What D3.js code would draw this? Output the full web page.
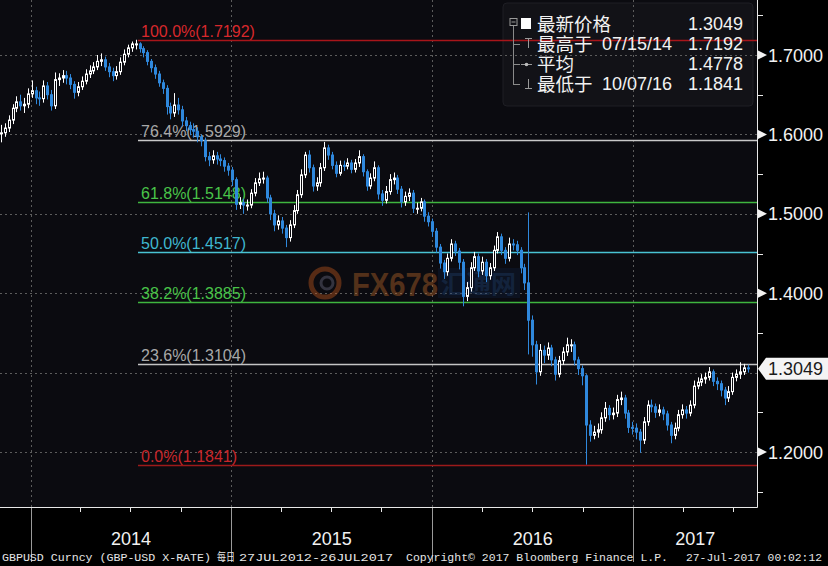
<!DOCTYPE html>
<html><head><meta charset="utf-8">
<script src="https://cdn.jsdelivr.net/npm/d3@7"></script>
<style>html,body{margin:0;padding:0;background:#000;} svg{display:block}</style>
</head><body>
<svg id="c" width="828" height="566"></svg>
<script>
// ---------------- DATA ----------------
const firstWeek = "2013-11-08";
const closes = [
  1.602, 1.608, 1.618, 1.633, 1.641, 1.636, 1.638, 1.651, 1.655, 1.646,
  1.645, 1.661, 1.650, 1.636, 1.669, 1.671, 1.674, 1.671, 1.663, 1.653,
  1.660, 1.667, 1.676, 1.680, 1.685, 1.692, 1.694, 1.685, 1.679, 1.674,
  1.679, 1.691, 1.701, 1.709, 1.714, 1.714, 1.708, 1.703, 1.692, 1.684,
  1.676, 1.665, 1.658, 1.635, 1.627, 1.637, 1.631, 1.617, 1.611, 1.606,
  1.604, 1.597, 1.592, 1.572, 1.568, 1.573, 1.569, 1.567, 1.560, 1.555,
  1.543, 1.512, 1.514, 1.511, 1.511, 1.526, 1.539, 1.544, 1.545, 1.520,
  1.500, 1.486, 1.491, 1.482, 1.470, 1.486, 1.504, 1.524, 1.549, 1.574,
  1.558, 1.535, 1.539, 1.558, 1.583, 1.574, 1.561, 1.551, 1.561, 1.560,
  1.564, 1.556, 1.564, 1.572, 1.553, 1.535, 1.545, 1.558, 1.525, 1.517,
  1.528, 1.543, 1.545, 1.531, 1.515, 1.522, 1.526, 1.507, 1.507, 1.515,
  1.497, 1.490, 1.478, 1.458, 1.438, 1.427, 1.444, 1.462, 1.453, 1.439,
  1.396, 1.407, 1.432, 1.446, 1.428, 1.439, 1.422, 1.432, 1.454, 1.471,
  1.454, 1.444, 1.462, 1.461, 1.454, 1.432, 1.413, 1.366, 1.335, 1.301,
  1.328, 1.322, 1.331, 1.316, 1.298, 1.315, 1.326, 1.335, 1.335, 1.316,
  1.305, 1.296, 1.234, 1.221, 1.225, 1.228, 1.243, 1.255, 1.247, 1.249,
  1.266, 1.268, 1.249, 1.231, 1.230, 1.225, 1.215, 1.238, 1.259, 1.257,
  1.250, 1.253, 1.248, 1.234, 1.221, 1.230, 1.247, 1.253, 1.249, 1.259,
  1.283, 1.288, 1.292, 1.294, 1.301, 1.289, 1.286, 1.278, 1.268, 1.276,
  1.294, 1.298, 1.301, 1.306, 1.3049
];
const highs = [
  1.612, 1.614, 1.624, 1.638, 1.648, 1.650, 1.646, 1.658, 1.668, 1.660,
  1.654, 1.668, 1.666, 1.656, 1.678, 1.677, 1.681, 1.680, 1.676, 1.667,
  1.666, 1.673, 1.682, 1.687, 1.691, 1.700, 1.702, 1.698, 1.690, 1.684,
  1.686, 1.697, 1.707, 1.713, 1.717, 1.7192, 1.716, 1.711, 1.706, 1.695,
  1.688, 1.680, 1.669, 1.662, 1.640, 1.652, 1.646, 1.636, 1.622, 1.616,
  1.614, 1.609, 1.600, 1.596, 1.578, 1.580, 1.578, 1.575, 1.571, 1.564,
  1.559, 1.546, 1.521, 1.519, 1.518, 1.531, 1.545, 1.552, 1.553, 1.548,
  1.524, 1.505, 1.498, 1.496, 1.486, 1.492, 1.511, 1.530, 1.556, 1.578,
  1.580, 1.562, 1.546, 1.564, 1.5905, 1.587, 1.578, 1.566, 1.567, 1.567,
  1.570, 1.568, 1.569, 1.580, 1.575, 1.556, 1.551, 1.566, 1.561, 1.530,
  1.535, 1.550, 1.552, 1.549, 1.535, 1.528, 1.532, 1.530, 1.514, 1.520,
  1.518, 1.502, 1.494, 1.482, 1.462, 1.442, 1.450, 1.468, 1.466, 1.457,
  1.443, 1.414, 1.439, 1.452, 1.450, 1.446, 1.443, 1.438, 1.460, 1.477,
  1.475, 1.458, 1.470, 1.468, 1.466, 1.458, 1.437, 1.5018, 1.372, 1.340,
  1.336, 1.334, 1.338, 1.335, 1.320, 1.321, 1.332, 1.344, 1.342, 1.339,
  1.320, 1.309, 1.298, 1.240, 1.233, 1.236, 1.250, 1.263, 1.259, 1.256,
  1.272, 1.276, 1.272, 1.253, 1.238, 1.236, 1.229, 1.244, 1.265, 1.266,
  1.261, 1.260, 1.257, 1.252, 1.238, 1.237, 1.253, 1.260, 1.258, 1.265,
  1.290, 1.294, 1.298, 1.300, 1.307, 1.304, 1.294, 1.290, 1.282, 1.283,
  1.300, 1.304, 1.313, 1.311, 1.310
];
const lows = [
  1.590, 1.597, 1.603, 1.613, 1.628, 1.630, 1.627, 1.633, 1.646, 1.638,
  1.636, 1.640, 1.644, 1.630, 1.632, 1.661, 1.665, 1.663, 1.657, 1.645,
  1.648, 1.656, 1.663, 1.671, 1.676, 1.681, 1.686, 1.680, 1.672, 1.667,
  1.669, 1.675, 1.687, 1.697, 1.704, 1.707, 1.703, 1.697, 1.687, 1.678,
  1.670, 1.660, 1.651, 1.625, 1.619, 1.622, 1.625, 1.610, 1.604, 1.599,
  1.596, 1.590, 1.585, 1.566, 1.560, 1.563, 1.562, 1.560, 1.553, 1.548,
  1.535, 1.505, 1.506, 1.500, 1.504, 1.507, 1.522, 1.535, 1.538, 1.514,
  1.492, 1.478, 1.480, 1.475, 1.458, 1.465, 1.482, 1.500, 1.520, 1.545,
  1.552, 1.528, 1.529, 1.534, 1.554, 1.568, 1.556, 1.546, 1.548, 1.554,
  1.556, 1.551, 1.552, 1.559, 1.547, 1.529, 1.531, 1.541, 1.518, 1.510,
  1.513, 1.524, 1.537, 1.525, 1.508, 1.510, 1.516, 1.501, 1.500, 1.503,
  1.490, 1.484, 1.471, 1.451, 1.431, 1.418, 1.422, 1.440, 1.447, 1.430,
  1.3835, 1.390, 1.402, 1.428, 1.420, 1.423, 1.414, 1.417, 1.428, 1.450,
  1.448, 1.437, 1.440, 1.454, 1.448, 1.425, 1.404, 1.3229, 1.320, 1.285,
  1.296, 1.312, 1.316, 1.308, 1.290, 1.294, 1.310, 1.321, 1.326, 1.309,
  1.297, 1.284, 1.1841, 1.213, 1.216, 1.218, 1.223, 1.238, 1.240, 1.241,
  1.244, 1.259, 1.242, 1.224, 1.222, 1.216, 1.199, 1.210, 1.233, 1.250,
  1.243, 1.245, 1.240, 1.227, 1.211, 1.216, 1.226, 1.242, 1.242, 1.245,
  1.255, 1.279, 1.283, 1.286, 1.290, 1.283, 1.278, 1.270, 1.259, 1.263,
  1.272, 1.289, 1.292, 1.297, 1.300
];

const fibLabels = ["100.0%", "76.4%", "61.8%", "50.0%", "38.2%", "23.6%", "0.0%"];
const fibValues = [1.7192, 1.5929, 1.5148, 1.4517, 1.3885, 1.3104, 1.1841];
const fibStartDate = "2014-07-15";

const yTickValues  = [1.2, 1.3, 1.4, 1.5, 1.6, 1.7];
const yMinorValues = [1.15, 1.25, 1.35, 1.45, 1.55, 1.65, 1.75];
const yearLabels = ["2014", "2015", "2016", "2017"];

const legendNames  = ["最新价格", "最高于", "平均", "最低于"];
const legendDates  = ["", "07/15/14", "", "10/07/16"];
const legendValues = ["1.3049", "1.7192", "1.4778", "1.1841"];
const lastPrice = 1.3049;

const footerParts = ["GBPUSD Curncy (GBP-USD X-RATE)", "每日", "27JUL2012-26JUL2017",
                     "Copyright© 2017 Bloomberg Finance L.P.", "27-Jul-2017 00:02:12"];

// ---------------- STYLE ----------------
const fibColors     = ["#a8151a", "#c9c9c9", "#3fb53f", "#49c3d3", "#3fb53f", "#c4c4c4", "#9c1a1a"];
const fibTextColors = ["#d8282c", "#a8a8a8", "#49c449", "#3fb7cf", "#49c449", "#a8a8a8", "#c8262a"];
const plotBg = "#0b0b10";
const upColor = "#ffffff", downColor = "#2f88dc";
const latin = "'Liberation Sans', Arial, sans-serif";
const cjk = "'Noto Sans CJK SC', 'Liberation Sans', sans-serif";

const svg = d3.select("#c");
const W = 828, H = 566;
const plot = {l: 0, r: 757, t: 0, b: 507};

svg.append("rect").attr("width", W).attr("height", H).attr("fill", "#000");
svg.append("rect").attr("x", plot.l).attr("y", plot.t).attr("width", plot.r - plot.l).attr("height", plot.b - plot.t).attr("fill", plotBg);

const y = d3.scaleLinear().domain([1.2, 1.7]).range([452, 55]);
const x = d3.scaleTime().domain([new Date(2014, 0, 1), new Date(2017, 0, 1)]).range([30.7, 633.3]);
const parse = d3.timeParse("%Y-%m-%d");
const d0 = parse(firstWeek);
const data = closes.map((c, i) => ({date: d3.timeDay.offset(d0, 7 * i), close: c,
  open: i > 0 ? closes[i - 1] : c, high: highs[i], low: lows[i]}));

// legend box (under grid lines)
svg.append("rect").attr("x", 503).attr("y", 3).attr("width", 250).attr("height", 103).attr("rx", 4)
  .attr("fill", "#121217").attr("stroke", "#1e1e24");

// grid
const gGrid = svg.append("g");
yTickValues.forEach(v => {
  gGrid.append("line").attr("x1", plot.l).attr("x2", plot.r).attr("y1", Math.round(y(v)) + 0.5).attr("y2", Math.round(y(v)) + 0.5)
    .attr("stroke", "#5c5c5c").attr("stroke-dasharray", "2,3");
});
const xMin = x.invert(plot.l), xMax = x.invert(plot.r);
const yearTicks = d3.timeYear.range(d3.timeYear.ceil(xMin), xMax);
yearTicks.forEach(d => {
  const xx = Math.round(x(d)) + 0.5;
  gGrid.append("line").attr("x1", xx).attr("x2", xx).attr("y1", plot.t).attr("y2", plot.b)
    .attr("stroke", "#5c5c5c").attr("stroke-dasharray", "2,3");
  gGrid.append("line").attr("x1", xx).attr("x2", xx).attr("y1", plot.b).attr("y2", 562)
    .attr("stroke", "#9a9a9a");
});

// watermark
const wm = svg.append("g").attr("opacity", 0.42);
wm.append("circle").attr("cx", 325).attr("cy", 283).attr("r", 14).attr("fill", "none").attr("stroke", "#c0581e").attr("stroke-width", 5);
wm.append("circle").attr("cx", 327).attr("cy", 283).attr("r", 6).attr("fill", "none").attr("stroke", "#6a6a80").attr("stroke-width", 3);
wm.append("text").attr("x", 352).attr("y", 296).attr("font-family", latin).attr("font-weight", "bold")
  .attr("font-size", 34).attr("textLength", 86).attr("lengthAdjust", "spacingAndGlyphs").attr("fill", "#b8662a").text("FX678");
wm.append("rect").attr("x", 438).attr("y", 268).attr("width", 82).attr("height", 30).attr("fill", "#0f2240").attr("opacity", 0.8);
wm.append("text").attr("x", 441).attr("y", 293).attr("font-family", cjk).attr("font-weight", "bold")
  .attr("font-size", 25).attr("fill", "#24508c").attr("opacity", 0.8).text("汇通网");

// fib lines
const fx = Math.round(x(parse(fibStartDate)));
fibValues.forEach((v, i) => {
  const yy = Math.round(y(v)) + 0.5;
  svg.append("line").attr("x1", fx).attr("x2", plot.r).attr("y1", yy).attr("y2", yy)
    .attr("stroke", fibColors[i]).attr("stroke-width", 1.3);
  svg.append("text").attr("x", fx + 3).attr("y", yy - 4).attr("font-family", latin).attr("font-size", 16)
    .attr("fill", fibTextColors[i]).text(`${fibLabels[i]}(${v.toFixed(4)})`);
});

// candles
svg.append("clipPath").attr("id", "clip").append("rect").attr("x", plot.l).attr("y", plot.t).attr("width", plot.r - plot.l).attr("height", plot.b - plot.t);
const gC = svg.append("g").attr("clip-path", "url(#clip)");
data.forEach(d => {
  const xx = Math.round(x(d.date)) + 0.5;
  const up = d.close >= d.open;
  gC.append("line").attr("x1", xx).attr("x2", xx).attr("y1", y(d.high)).attr("y2", y(d.low))
    .attr("stroke", up ? upColor : downColor).attr("stroke-width", 1);
});
data.forEach(d => {
  const xx = Math.round(x(d.date)) + 0.5;
  const up = d.close >= d.open;
  const top = y(Math.max(d.open, d.close)), bot = y(Math.min(d.open, d.close));
  const h = Math.max(1, bot - top);
  if (up) {
    gC.append("rect").attr("x", xx - 1).attr("y", top).attr("width", 2).attr("height", h)
      .attr("fill", plotBg).attr("stroke", upColor).attr("stroke-width", 1);
  } else {
    gC.append("rect").attr("x", xx - 1.5).attr("y", top - 0.5).attr("width", 3).attr("height", h + 1)
      .attr("fill", downColor);
  }
});

// axes
svg.append("line").attr("x1", plot.l).attr("x2", plot.r + 0.5).attr("y1", plot.b + 0.5).attr("y2", plot.b + 0.5).attr("stroke", "#e8e8e8");
svg.append("line").attr("x1", plot.r + 0.5).attr("x2", plot.r + 0.5).attr("y1", plot.t).attr("y2", plot.b + 0.5).attr("stroke", "#e8e8e8");

d3.timeMonth.every(3).range(xMin, xMax).forEach(d => {
  if (d.getMonth() === 0) return;
  const xx = Math.round(x(d)) + 0.5;
  svg.append("line").attr("x1", xx).attr("x2", xx).attr("y1", plot.b).attr("y2", plot.b + 5).attr("stroke", "#e8e8e8");
});
yearLabels.forEach(lbl => {
  const s = new Date(+lbl, 0, 1), e = new Date(+lbl + 1, 0, 1);
  const a = Math.max(plot.l, x(s)), b = Math.min(plot.r, x(e));
  svg.append("text").attr("x", (a + b) / 2).attr("y", 545).attr("text-anchor", "middle")
    .attr("font-family", latin).attr("font-size", 18).attr("fill", "#f2f2f2").text(lbl);
});

yMinorValues.forEach(v => {
  const yy = Math.round(y(v)) + 0.5;
  svg.append("line").attr("x1", plot.r).attr("x2", plot.r + 6).attr("y1", yy).attr("y2", yy).attr("stroke", "#e8e8e8");
});
const ly = y(lastPrice);
yTickValues.forEach(v => {
  const yy = y(v);
  if (Math.abs(yy - ly) < 16) return; // hidden behind the last-price tag
  svg.append("path").attr("d", `M${plot.r + 1},${yy - 4.5}L${plot.r + 10},${yy}L${plot.r + 1},${yy + 4.5}Z`).attr("fill", "#f2f2f2");
  svg.append("text").attr("x", 768).attr("y", yy + 6.5).attr("font-family", latin).attr("font-size", 18)
    .attr("fill", "#f2f2f2").text(v.toFixed(4));
});

// last price tag
svg.append("path").attr("d", `M${plot.r + 1},${ly}L${plot.r + 9},${ly - 11}L828,${ly - 11}L828,${ly + 11}L${plot.r + 9},${ly + 11}Z`)
  .attr("fill", "#f4f4f4");
svg.append("text").attr("x", 768).attr("y", ly + 6.5).attr("font-family", latin).attr("font-size", 18)
  .attr("fill", "#1a1a1a").text(lastPrice.toFixed(4));

// legend content
const lg = svg.append("g");
const rowsY = [30, 50, 70, 90];
const treeX = 513.5;
lg.append("line").attr("x1", treeX).attr("x2", treeX).attr("y1", 26).attr("y2", 85).attr("stroke", "#8a8a8a");
lg.append("rect").attr("x", 510).attr("y", 18.5).attr("width", 7).attr("height", 7).attr("fill", "#121217").attr("stroke", "#9a9a9a");
lg.append("line").attr("x1", 511.5).attr("x2", 515.5).attr("y1", 22).attr("y2", 22).attr("stroke", "#9a9a9a");
rowsY.slice(1).forEach(ry => {
  lg.append("line").attr("x1", treeX).attr("x2", 520).attr("y1", ry - 5.5).attr("y2", ry - 5.5).attr("stroke", "#8a8a8a");
});
lg.append("rect").attr("x", 521).attr("y", 18).attr("width", 10).attr("height", 11).attr("fill", "#ffffff");
lg.append("line").attr("x1", 528.5).attr("x2", 528.5).attr("y1", 38).attr("y2", 48).attr("stroke", "#9a9a9a");
lg.append("line").attr("x1", 525).attr("x2", 532).attr("y1", 38.5).attr("y2", 38.5).attr("stroke", "#9a9a9a");
lg.append("line").attr("x1", 521).attr("x2", 532).attr("y1", 64.5).attr("y2", 64.5).attr("stroke", "#9a9a9a");
lg.append("circle").attr("cx", 526.5).attr("cy", 64.5).attr("r", 1.8).attr("fill", "#bbbbbb");
lg.append("line").attr("x1", 528.5).attr("x2", 528.5).attr("y1", 79).attr("y2", 89).attr("stroke", "#9a9a9a");
lg.append("line").attr("x1", 525).attr("x2", 532).attr("y1", 88.5).attr("y2", 88.5).attr("stroke", "#9a9a9a");

legendNames.forEach((n, i) => {
  lg.append("text").attr("x", 537).attr("y", rowsY[i] + 1).attr("font-family", cjk).attr("font-size", 18.5)
    .attr("fill", "#f2f2f2").text(n);
  if (legendDates[i]) lg.append("text").attr("x", 602).attr("y", rowsY[i]).attr("font-family", latin).attr("font-size", 18)
    .attr("fill", "#f2f2f2").text(legendDates[i]);
  lg.append("text").attr("x", 743).attr("y", rowsY[i]).attr("text-anchor", "end").attr("font-family", latin).attr("font-size", 18)
    .attr("fill", "#f2f2f2").text(legendValues[i]);
});

// footer
const footX = [2, 217, 239, 406, 686];
const footW = [209, 18, 154, 262, 136];
footerParts.forEach((t, i) => {
  svg.append("text").attr("x", footX[i]).attr("y", 561).attr("font-family", "'Liberation Mono', 'Noto Sans CJK SC', monospace")
    .attr("font-size", 11.3).attr("textLength", footW[i]).attr("lengthAdjust", "spacingAndGlyphs")
    .attr("fill", "#e6e6e6").text(t);
});
</script>
</body></html>
